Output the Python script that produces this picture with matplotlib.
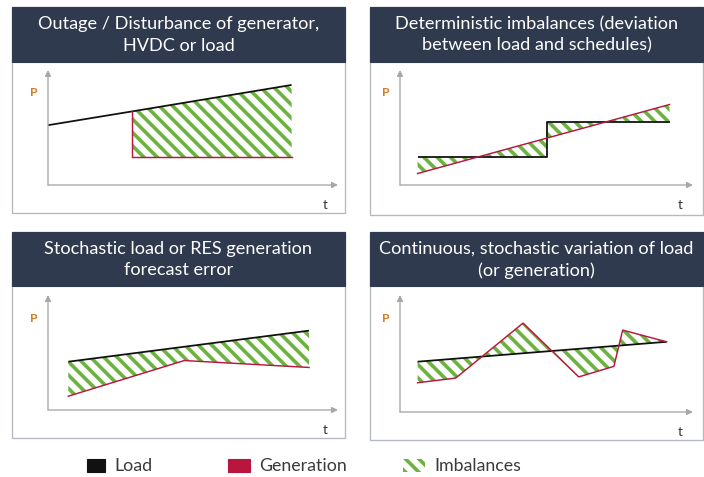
import numpy as np
import matplotlib
matplotlib.use("Agg")
import matplotlib.pyplot as plt
from matplotlib.patches import Rectangle

# --- data (t, P in arbitrary units 0..10) ---
titles = ["Outage / Disturbance of generator,\nHVDC or load",
          "Deterministic imbalances (deviation\nbetween load and schedules)",
          "Stochastic load or RES generation\nforecast error",
          "Continuous, stochastic variation of load\n(or generation)"]

load1_t = [0.0, 2.9, 8.4]
load1_p = [5.2, 6.4, 8.7]
gen1_t = [2.9, 2.9, 8.4]
gen1_p = [6.4, 2.4, 2.4]

load2_t = [0.6, 5.0, 5.0, 9.2]
load2_p = [2.4, 2.4, 5.5, 5.5]
gen2_t = [0.6, 9.2]
gen2_p = [1.0, 7.0]

load3_t = [0.7, 9.0]
load3_p = [4.2, 6.9]
gen3_t = [0.7, 4.7, 9.0]
gen3_p = [1.2, 4.3, 3.7]

load4_t = [0.6, 9.1]
load4_p = [4.3, 6.0]
gen4_t = [0.6, 1.9, 4.2, 6.1, 7.3, 7.6, 9.1]
gen4_p = [2.5, 2.9, 7.6, 3.0, 3.9, 7.0, 6.0]

legend_labels = ["Load", "Generation", "Imbalances"]

W, H = 704, 477
DPI = 80
LOAD_C = "#111111"
GEN_C = "#b8163d"
IMB_C = "#6db33f"
HEAD_C = "#2f3a4f"
AX_C = "#a8a8a8"
FONT = ["Lato", "DejaVu Sans"]

plt.rcParams["hatch.linewidth"] = 3.3
plt.rcParams["font.family"] = FONT

fig = plt.figure(figsize=(W / DPI, H / DPI), dpi=DPI)
fig.patch.set_facecolor("white")


def fbox(x0, y0, x1, y1):
    return [x0 / W, 1 - y1 / H, (x1 - x0) / W, (y1 - y0) / H]


def frect(x0, y0, x1, y1, **kw):
    r = Rectangle((x0 / W, 1 - y1 / H), (x1 - x0) / W, (y1 - y0) / H,
                  transform=fig.transFigure, **kw)
    fig.add_artist(r)


# panel frame / header / plot area in pixels
panels = [
    dict(box=(12, 7, 345, 213), head=62, origin=(48, 185), xend=338, ytop=70),
    dict(box=(370, 7, 703, 215), head=62, origin=(400, 185), xend=693, ytop=70),
    dict(box=(12, 232, 345, 438), head=286, origin=(48, 410), xend=338, ytop=295),
    dict(box=(370, 232, 703, 440), head=286, origin=(400, 412), xend=693, ytop=295),
]
series = [
    (load1_t, load1_p, gen1_t, gen1_p),
    (load2_t, load2_p, gen2_t, gen2_p),
    (load3_t, load3_p, gen3_t, gen3_p),
    (load4_t, load4_p, gen4_t, gen4_p),
]

for pn, title, (lt, lp, gt, gp) in zip(panels, titles, series):
    x0, y0, x1, y1 = pn["box"]
    frect(x0, y0, x1, y1, fill=False, edgecolor="#b4b8c0", lw=1.2)
    frect(x0, y0, x1, pn["head"], facecolor=HEAD_C, edgecolor=HEAD_C, lw=1.0)
    fig.text((x0 + x1) / 2 / W, 1 - (y0 + pn["head"] + 1) / 2 / H, title,
             ha="center", va="center", color="white", fontsize=16.3,
             linespacing=1.42)

    ox, oy = pn["origin"]
    ax = fig.add_axes(fbox(ox, pn["ytop"], pn["xend"], oy))
    ax.set_xlim(0, 10)
    ax.set_ylim(0, 10)
    ax.axis("off")
    ax.annotate("", xy=(1, 0), xytext=(0, 0), xycoords="axes fraction",
                arrowprops=dict(arrowstyle="-|>", color=AX_C, lw=1.2,
                                mutation_scale=11, shrinkA=0, shrinkB=0))
    ax.annotate("", xy=(0, 1), xytext=(0, 0), xycoords="axes fraction",
                arrowprops=dict(arrowstyle="-|>", color=AX_C, lw=1.2,
                                mutation_scale=11, shrinkA=0, shrinkB=0))
    ax.text(-0.05, 0.8, "P", transform=ax.transAxes, ha="center",
            va="center", color="#d07a2a", fontsize=11, fontweight="bold")
    ax.text(0.955, -0.17, "t", transform=ax.transAxes, ha="center",
            va="center", color="#333333", fontsize=12)

    # imbalance area between load and generation
    if lt[0] < gt[0]:
        k = lt.index(gt[0])
        poly_t = list(lt[k:]) + list(gt[::-1])
        poly_p = list(lp[k:]) + list(gp[::-1])
    else:
        poly_t = list(lt) + list(gt[::-1])
        poly_p = list(lp) + list(gp[::-1])
    ax.fill(poly_t, poly_p, facecolor="none", edgecolor=IMB_C, lw=0,
            hatch="\\\\")
    ax.plot(lt, lp, color=LOAD_C, lw=1.6, solid_capstyle="butt")
    ax.plot(gt, gp, color=GEN_C, lw=1.3)

# legend
leg_x = [(87, 105), (228, 250), (403, 425)]
leg_y = (459, 472)
for i, (lab, (a, b)) in enumerate(zip(legend_labels, leg_x)):
    if i == 0:
        frect(a, leg_y[0], b, leg_y[1], facecolor=LOAD_C, edgecolor=LOAD_C)
    elif i == 1:
        frect(a, leg_y[0], b, leg_y[1], facecolor=GEN_C, edgecolor=GEN_C)
    else:
        r = Rectangle((a / W, 1 - leg_y[1] / H), (b - a) / W,
                      (leg_y[1] - leg_y[0]) / H, transform=fig.transFigure,
                      facecolor="none", edgecolor=IMB_C, lw=0, hatch="\\\\")
        fig.add_artist(r)
    fig.text((b + 9) / W, 1 - 466 / H, lab, ha="left", va="center",
             color="#3a3a3a", fontsize=16)

fig.savefig("out.png", dpi=DPI)
